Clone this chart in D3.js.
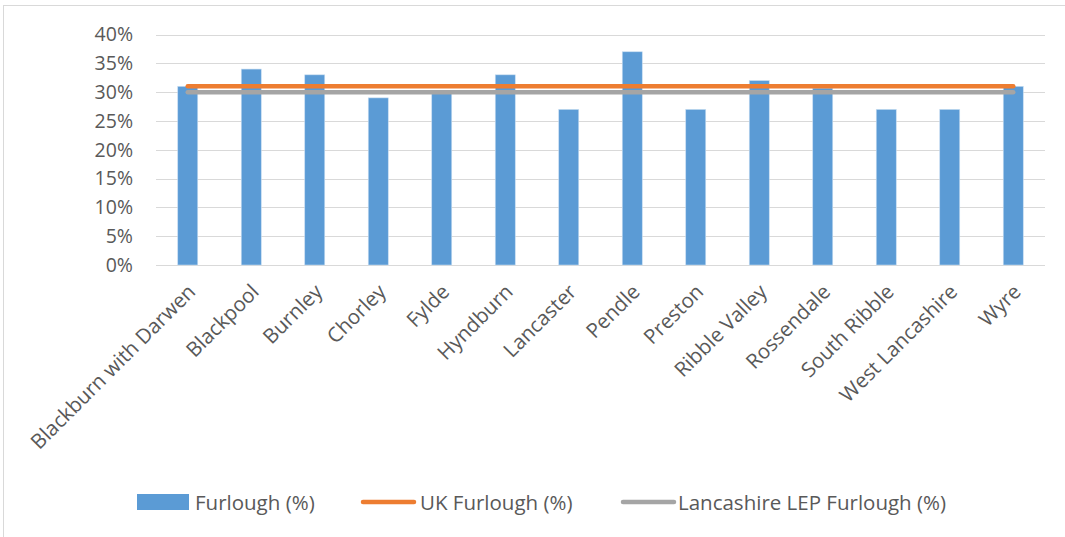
<!DOCTYPE html>
<html>
<head>
<meta charset="utf-8">
<script src="https://cdn.jsdelivr.net/npm/d3@7"></script>
<style>
  html, body { margin: 0; padding: 0; background: #fff; }
  svg { display: block; font-family: "Open Sans", sans-serif; }
</style>
</head>
<body>
<svg id="chart" width="1065" height="537"></svg>
<script>
const categories = ["Blackburn with Darwen", "Blackpool", "Burnley", "Chorley", "Fylde", "Hyndburn", "Lancaster", "Pendle", "Preston", "Ribble Valley", "Rossendale", "South Ribble", "West Lancashire", "Wyre"];
const furlough = [31, 34, 33, 29, 30, 33, 27, 37, 27, 32, 30.7, 27, 27, 31];
const ukFurlough = [31, 31, 31, 31, 31, 31, 31, 31, 31, 31, 31, 31, 31, 31];
const lepFurlough = [30, 30, 30, 30, 30, 30, 30, 30, 30, 30, 30, 30, 30, 30];
const yTicks = [0, 5, 10, 15, 20, 25, 30, 35, 40];
const seriesNames = ["Furlough (%)", "UK Furlough (%)", "Lancashire LEP Furlough (%)"];

const svg = d3.select("#chart");
const textColor = "#595959";
const gridColor = "#d9d9d9";
const blue = "#5b9bd5", orange = "#ed7d31", gray = "#a5a5a5";
const labelSize = 20.5;

// outer frame
svg.append("rect").attr("x", 3.5).attr("y", 5.5).attr("width", 1070).attr("height", 540)
  .attr("fill", "none").attr("stroke", gridColor).attr("stroke-width", 1);

const plot = { left: 156, right: 1045, top: 34.5, bottom: 265 };

const x = d3.scaleBand().domain(categories).range([plot.left, plot.right]).padding(0);
const y = d3.scaleLinear().domain([0, 40]).range([plot.bottom, plot.top]);

// gridlines
svg.append("g").selectAll("line").data(yTicks).join("line")
  .attr("x1", plot.left).attr("x2", plot.right)
  .attr("y1", d => Math.round(y(d)) + 0.5).attr("y2", d => Math.round(y(d)) + 0.5)
  .attr("stroke", gridColor).attr("stroke-width", 1);

// y axis labels
const yAxis = d3.axisLeft(y).tickValues(yTicks).tickFormat(d => d + "%").tickSize(0).tickPadding(23);
const yg = svg.append("g").attr("transform", `translate(${plot.left},0)`).call(yAxis);
yg.select(".domain").remove();
yg.selectAll("text").attr("font-size", 19.5).attr("fill", textColor).attr("font-family", "Open Sans, sans-serif");

// bars
const barW = x.bandwidth() * 0.315;
svg.append("g").selectAll("rect").data(categories).join("rect")
  .attr("x", d => x(d) + (x.bandwidth() - barW) / 2)
  .attr("width", barW)
  .attr("y", (d, i) => y(furlough[i]))
  .attr("height", (d, i) => y(0) - y(furlough[i]))
  .attr("fill", blue)
  .attr("stroke", "#c6dcf0").attr("stroke-width", 0.6);

// lines
const lineGen = vals => d3.line()
  .x((d, i) => x(categories[i]) + x.bandwidth() / 2)
  .y(d => y(d))(vals);
svg.append("path").attr("d", lineGen(ukFurlough))
  .attr("fill", "none").attr("stroke", orange).attr("stroke-width", 4.5).attr("stroke-linecap", "round");
svg.append("path").attr("d", lineGen(lepFurlough))
  .attr("fill", "none").attr("stroke", gray).attr("stroke-width", 4.5).attr("stroke-linecap", "round");

// x axis labels
const xAxis = d3.axisBottom(x).tickSize(0).tickPadding(0);
const xg = svg.append("g").attr("transform", `translate(0,${plot.bottom})`).call(xAxis);
xg.select(".domain").remove();
xg.selectAll("text")
  .attr("font-size", labelSize).attr("fill", textColor).attr("font-family", "Open Sans, sans-serif")
  .attr("text-anchor", "end")
  .attr("dy", null).attr("y", 0)
  .attr("transform", "translate(9,28) rotate(-45)");

// legend
const legend = svg.append("g");
legend.append("rect").attr("x", 137).attr("y", 494).attr("width", 52).attr("height", 16).attr("fill", blue);
legend.append("text").attr("x", 195).attr("y", 510).text(seriesNames[0]);
legend.append("line").attr("x1", 363).attr("x2", 414).attr("y1", 502).attr("y2", 502)
  .attr("stroke", orange).attr("stroke-width", 4.5).attr("stroke-linecap", "round");
legend.append("text").attr("x", 420).attr("y", 510).text(seriesNames[1]);
legend.append("line").attr("x1", 623).attr("x2", 674).attr("y1", 502).attr("y2", 502)
  .attr("stroke", gray).attr("stroke-width", 4.5).attr("stroke-linecap", "round");
legend.append("text").attr("x", 678).attr("y", 510).text(seriesNames[2]);
legend.selectAll("text").attr("font-size", labelSize).attr("fill", textColor);
</script>
</body>
</html>
